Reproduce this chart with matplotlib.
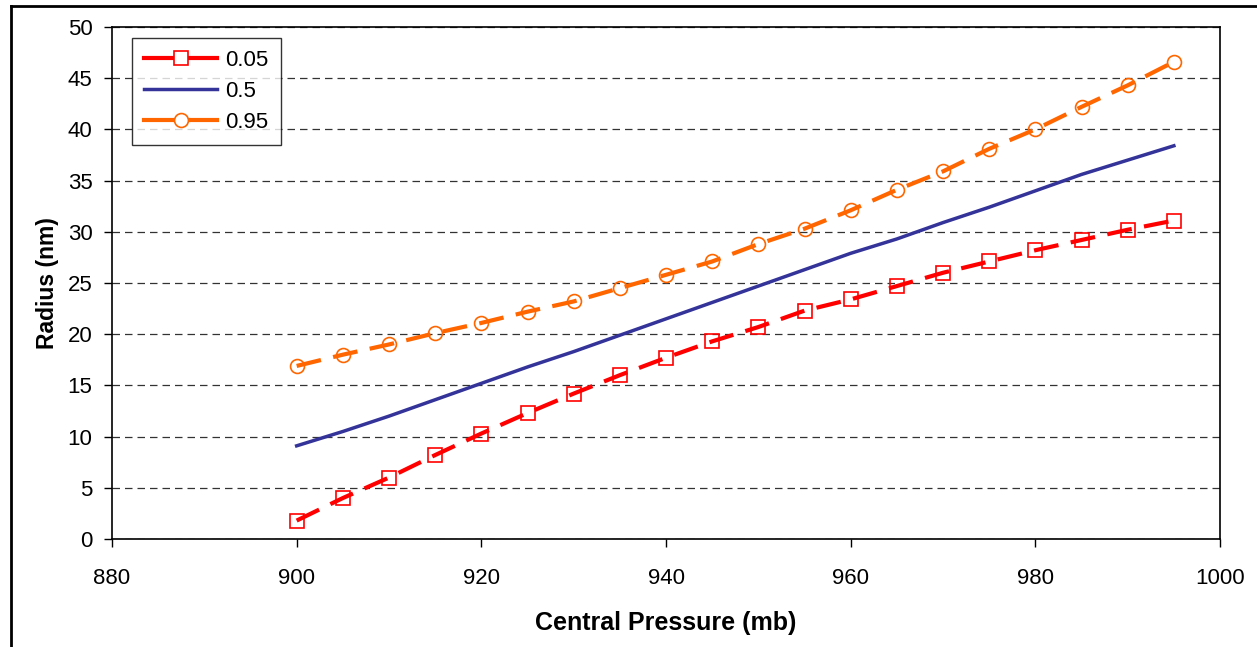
import matplotlib.pyplot as plt
from matplotlib.lines import Line2D

plt.rcParams['font.family'] = ['Liberation Sans', 'DejaVu Sans']

pressure = [900, 905, 910, 915, 920, 925, 930, 935, 940, 945,
            950, 955, 960, 965, 970, 975, 980, 985, 990, 995]
r_05 = [1.8, 4.0, 6.0, 8.2, 10.3, 12.3, 14.2, 16.0, 17.7, 19.3,
        20.7, 22.3, 23.4, 24.7, 26.0, 27.1, 28.2, 29.2, 30.2, 31.1]
r_50 = [9.1, 10.5, 12.0, 13.6, 15.2, 16.8, 18.3, 19.9, 21.5, 23.1,
        24.7, 26.3, 27.9, 29.3, 30.9, 32.4, 34.0, 35.6, 37.0, 38.4]
r_95 = [16.9, 18.0, 19.0, 20.1, 21.1, 22.2, 23.2, 24.5, 25.8, 27.1,
        28.8, 30.3, 32.1, 34.1, 35.9, 38.1, 40.0, 42.2, 44.3, 46.6]

fig = plt.figure(figsize=(12.57, 6.47), dpi=100)
ax = fig.add_axes([0.0891, 0.1669, 0.8815, 0.7914])

ax.plot(pressure, r_05, color='#FF0000', lw=3, dashes=(6, 3), marker='s',
        markersize=10, markerfacecolor='none', markeredgecolor='#FF0000',
        markeredgewidth=1.2, label='0.05', zorder=3)
ax.plot(pressure, r_50, color='#333399', lw=2.5, label='0.5', zorder=3)
ax.plot(pressure, r_95, color='#FF6600', lw=3, dashes=(6, 3), marker='o',
        markersize=10, markerfacecolor='none', markeredgecolor='#FF6600',
        markeredgewidth=1.2, label='0.95', zorder=3)

ax.set_xlim(880, 1000)
ax.set_ylim(0, 50)
ax.set_xticks(range(880, 1001, 20))
ax.set_yticks(range(0, 51, 5))
ax.yaxis.grid(True, color='#333333', lw=0.9, dashes=(6, 4))
ax.set_axisbelow(True)
ax.tick_params(axis='both', labelsize=16, length=6, width=1, direction='out')
ax.tick_params(axis='x', pad=15)
ax.tick_params(axis='y', pad=8)
for s in ax.spines.values():
    s.set_linewidth(1.2)

ax.set_xlabel('Central Pressure (mb)', fontsize=18, fontweight='bold', labelpad=16)
ax.set_ylabel('Radius (nm)', fontsize=16.5, fontweight='bold', labelpad=6)

leg = ax.legend(loc='upper left', bbox_to_anchor=(0.018, 0.979), borderaxespad=0,
                fontsize=16, frameon=True, fancybox=False, edgecolor='black',
                handlelength=3.3, handletextpad=0.36, borderpad=0.55,
                labelspacing=0.45)
leg.get_frame().set_linewidth(1.0)
for h in leg.get_lines():
    h.set_linestyle('-')
    h.set_markerfacecolor('white')

# chart area border (left and top)
fig.add_artist(Line2D([0.009, 0.009], [0, 0.99], transform=fig.transFigure,
                      color='black', lw=2))
fig.add_artist(Line2D([0.009, 1], [0.99, 0.99], transform=fig.transFigure,
                      color='black', lw=2))

fig.savefig('out.png', dpi=100)
